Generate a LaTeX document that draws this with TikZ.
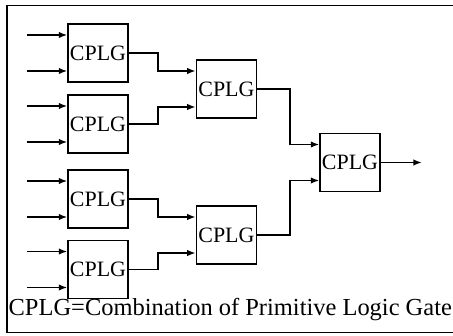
\documentclass[tikz,border=0pt]{standalone}
\usepackage{fontspec}
\setmainfont{Liberation Serif}
\usetikzlibrary{positioning,calc,arrows.meta}

\begin{document}
\begin{tikzpicture}[
    cplg/.style={draw,line width=1.1pt,minimum width=1.5cm,minimum height=1.45cm,
      inner sep=0pt,font=\fontsize{15.6}{18}\selectfont},
    wire/.style={line width=1.1pt,-{Latex[length=6pt,width=4.6pt]}}]
  \useasboundingbox (0,0) rectangle (11.325,8.375);
  \draw[line width=1.3pt] (0.175,0.0625) rectangle (13,8.2375);
  % first stage
  \node[cplg] (g1) at (2.45,7.05) {CPLG};
  \node[cplg] (g2) at (2.45,5.275) {CPLG};
  \node[cplg] (g3) at (2.45,3.4) {CPLG};
  \node[cplg] (g4) at (2.45,1.6375) {CPLG};
  % second and third stage
  \node[cplg] (h1) at (5.66,6.15) {CPLG};
  \node[cplg] (h2) at (5.66,2.5) {CPLG};
  \node[cplg] (last) at (8.75,4.3125) {CPLG};
  \foreach \g in {g1,g2,g3,g4,h1,h2,last} {
    \coordinate (\g-a) at ([yshift=0.45cm]\g.west);
    \coordinate (\g-b) at ([yshift=-0.45cm]\g.west);
  }
  \foreach \g in {g1,g2,g3,g4} {
    \draw[wire] ([xshift=-1cm]\g-a) -- (\g-a);
    \draw[wire] ([xshift=-1cm]\g-b) -- (\g-b);
  }
  \draw[wire] (g1.east) -- ++(0.725,0) |- (h1-a);
  \draw[wire] (g2.east) -- ++(0.725,0) |- (h1-b);
  \draw[wire] (g3.east) -- ++(0.725,0) |- (h2-a);
  \draw[wire] (g4.east) -- ++(0.725,0) |- (h2-b);
  \draw[wire] (h1.east) -- ++(0.82,0) |- (last-a);
  \draw[wire] (h2.east) -- ++(0.82,0) |- (last-b);
  \coordinate (out) at ([xshift=1.025cm]last.east);
  \draw[wire] (last.east) -- (out);
  \node[anchor=base west,inner sep=0pt,font=\fontsize{17.4}{20}\selectfont] (note)
    at (0.21,0.5) {CPLG=Combination of Primitive Logic Gate};
\end{tikzpicture}
\end{document}
